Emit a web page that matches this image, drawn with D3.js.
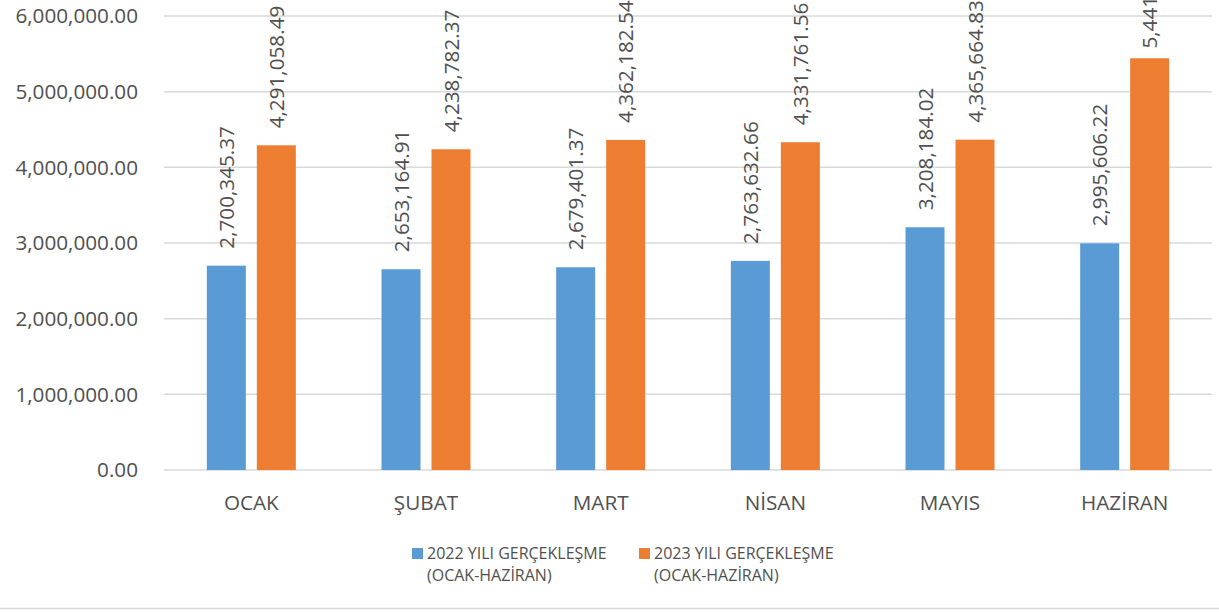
<!DOCTYPE html>
<html lang="tr">
<head>
  <meta charset="UTF-8">
  <title>2022 - 2023 Gerçekleşme</title>
  <script src="https://d3js.org/d3.v7.min.js"></script>
  <style>
    body { margin: 0; background: #fff; font-family: "Open Sans", sans-serif; }
    svg text { fill: #505050; }
    .grid line { stroke: #d9d9d9; stroke-width: 1.5; }
  </style>
</head>
<body>
<div id="chart"></div>
<script>
const months = ["OCAK", "ŞUBAT", "MART", "NİSAN", "MAYIS", "HAZİRAN"];
const values2022 = [2700345.37, 2653164.91, 2679401.37, 2763632.66, 3208184.02, 2995606.22];
const values2023 = [4291058.49, 4238782.37, 4362182.54, 4331761.56, 4365664.83, 5441318.75];
const seriesNames = ["2022 YILI GERÇEKLEŞME", "2023 YILI GERÇEKLEŞME"];
const seriesColors = ["#5B9BD5", "#ED7D31"];
const yTicks = [0, 1000000, 2000000, 3000000, 4000000, 5000000, 6000000];

const W = 1219, H = 612;
const svg = d3.select("#chart").append("svg").attr("width", W).attr("height", H);

const plot = {left: 164, right: 1212, top: 16, bottom: 470};
const chartTop = -74; // chart area starts above the visible crop
const fs = "20.7px";

const x = d3.scaleBand().domain(months).range([plot.left, plot.right]);
const xs = d3.scaleBand().domain([0, 1]).range([-44.5, 44.5]).paddingInner(0.22);
const y = d3.scaleLinear().domain([0, 6000000]).range([plot.bottom, plot.top]);
const fmt = d3.format(",.2f");

// gridlines
svg.append("g").attr("class", "grid")
  .selectAll("line").data(yTicks).enter().append("line")
  .attr("x1", plot.left).attr("x2", plot.right)
  .attr("y1", d => y(d)).attr("y2", d => y(d));

// y labels
svg.append("g").selectAll("text").data(yTicks).enter().append("text")
  .attr("x", 138).attr("y", d => y(d)).attr("dy", "0.35em")
  .attr("text-anchor", "end").style("font-size", fs)
  .text(d => fmt(d));

// x labels
svg.append("g").selectAll("text").data(months).enter().append("text")
  .attr("x", d => x(d) + x.bandwidth() / 2).attr("y", 510)
  .attr("text-anchor", "middle").style("font-size", fs)
  .text(d => d);

const series = [values2022, values2023];
series.forEach((vals, si) => {
  const g = svg.append("g");
  g.selectAll("rect").data(vals).enter().append("rect")
    .attr("x", (d, i) => x(months[i]) + x.bandwidth() / 2 + xs(si))
    .attr("width", xs.bandwidth())
    .attr("y", d => y(d))
    .attr("height", d => plot.bottom - y(d))
    .attr("fill", seriesColors[si]);
  g.selectAll("text").data(vals).enter().append("text")
    .style("font-size", fs)
    .text(d => fmt(d))
    .attr("transform", function(d, i) {
      const cx = x(months[i]) + x.bandwidth() / 2 + xs(si) + xs.bandwidth() / 2;
      const len = this.getComputedTextLength();
      // keep label inside the chart area, like Excel does
      const start = Math.max(y(d) - 17, chartTop + len);
      return `translate(${cx + 7.5},${start}) rotate(-90)`;
    });
});

// legend
const legend = svg.append("g");
const lx = [412, 639];
seriesNames.forEach((name, i) => {
  legend.append("rect").attr("x", lx[i]).attr("y", 548).attr("width", 11).attr("height", 11)
    .attr("fill", seriesColors[i]);
  const t = legend.append("text").attr("x", lx[i] + 15).attr("y", 559).style("font-size", "16px");
  t.append("tspan").text(name);
  t.append("tspan").attr("x", lx[i] + 15).attr("dy", 22).text("(OCAK-HAZİRAN)");
});

svg.append("line").attr("x1", 0).attr("x2", W).attr("y1", 608.5).attr("y2", 608.5)
  .attr("stroke", "#d9d9d9").attr("stroke-width", 1.5);
</script>
</body>
</html>
